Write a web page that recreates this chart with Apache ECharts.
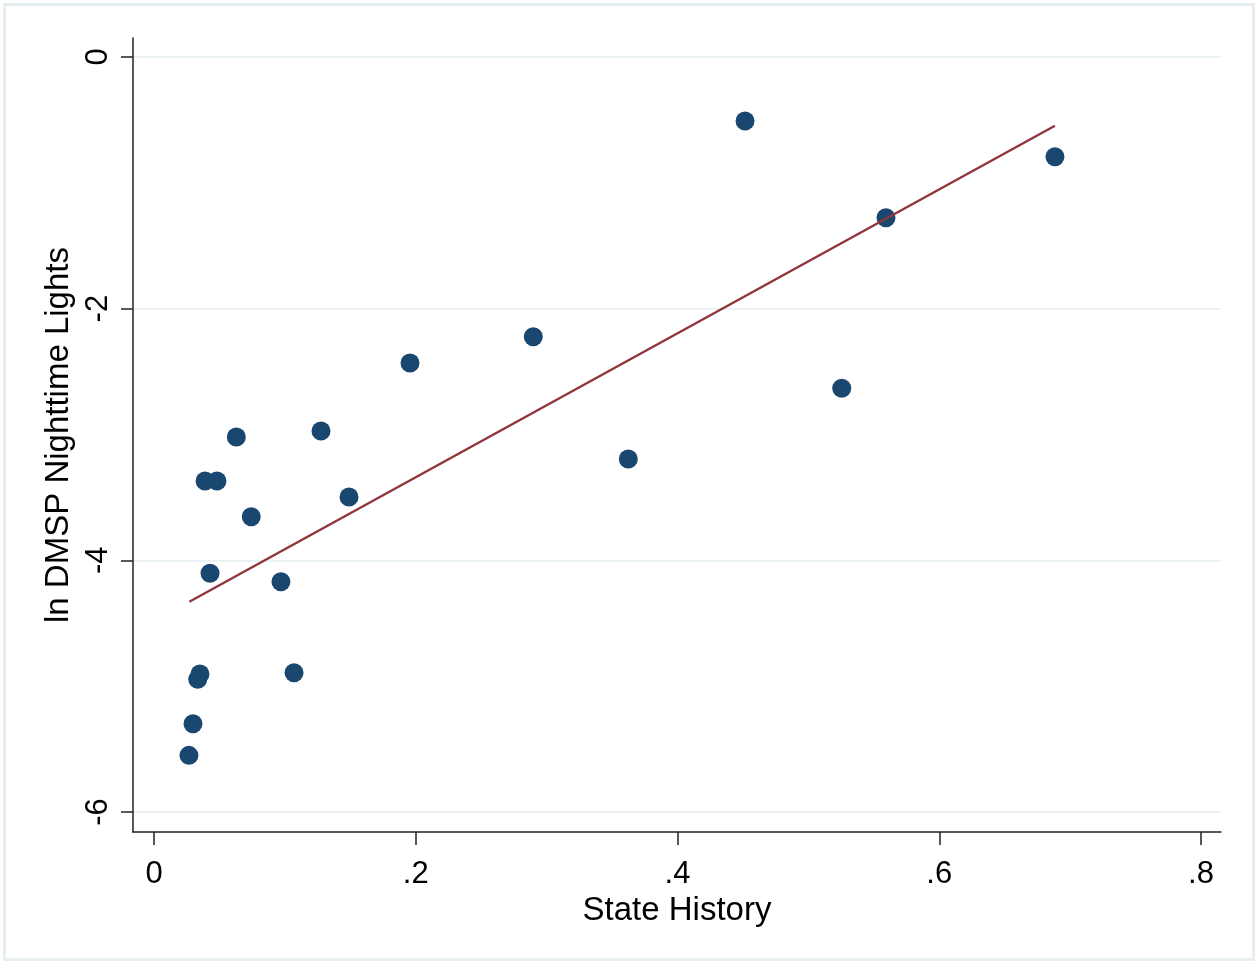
<!DOCTYPE html>
<html>
<head>
<meta charset="utf-8">
<script src="https://cdn.jsdelivr.net/npm/echarts@6/dist/echarts.min.js"></script>
<style>
html,body{margin:0;padding:0;background:#fff;}
#chart{width:1257px;height:962px;}
</style>
</head>
<body>
<div id="chart"></div>
<script>
// State History (x) vs ln DMSP Nighttime Lights (y)
const stateHistory = [0.4516, 0.6884, 0.5593, 0.2898, 0.1956, 0.5255, 0.0629, 0.1276, 0.3624, 0.0390,
                      0.0481, 0.1490, 0.0743, 0.0428, 0.0970, 0.1070, 0.0351, 0.0334, 0.0298, 0.0267];
const lnLights     = [-0.509, -0.792, -1.277, -2.223, -2.432, -2.633, -3.020, -2.972, -3.195, -3.370,
                      -3.370, -3.497, -3.653, -4.103, -4.170, -4.893, -4.903, -4.946, -5.298, -5.550];
// fitted line endpoints
const fitX = [0.0270, 0.6884];
const fitY = [-4.329, -0.546];
const xTicks = [0, 0.2, 0.4, 0.6, 0.8];
const yTicks = [-6, -4, -2, 0];

const fmt = v => {
  if (v === 0) return '0';
  let s = String(+v.toFixed(2));
  return s.replace(/^0\./, '.').replace(/^-0\./, '-.');
};

const chart = echarts.init(document.getElementById('chart'), null, {renderer: 'canvas'});
const font = 'Liberation Sans, Arial, sans-serif';
chart.setOption({
  animation: false,
  backgroundColor: '#ffffff',
  graphic: [{
    type: 'rect', silent: true,
    shape: {x: 4.5, y: 4.5, width: 1249, height: 955},
    style: {fill: 'none', stroke: '#e6eef2', lineWidth: 3}
  }],
  grid: {left: 133, right: 36, top: 38, bottom: 130, containLabel: false},
  xAxis: {
    type: 'value', min: -0.01605, max: 0.81528,
    name: 'State History', nameLocation: 'middle', nameGap: 52,
    nameTextStyle: {fontFamily: font, fontSize: 33, color: '#000'},
    axisLine: {show: true, onZero: false, lineStyle: {color: '#222', width: 1.5}},
    axisTick: {show: true, customValues: xTicks, length: 13, lineStyle: {color: '#222', width: 1.5}},
    axisLabel: {show: true, customValues: xTicks, formatter: fmt, margin: 27,
                fontFamily: font, fontSize: 31, color: '#000'},
    splitLine: {show: false}
  },
  yAxis: {
    type: 'value', min: -6.159, max: 0.151,
    name: 'ln DMSP Nighttime Lights', nameLocation: 'middle', nameGap: 41, nameRotate: 90,
    nameTextStyle: {fontFamily: font, fontSize: 33, color: '#000'},
    axisLine: {show: true, onZero: false, lineStyle: {color: '#222', width: 1.5}},
    axisTick: {show: true, customValues: yTicks, length: 12, lineStyle: {color: '#222', width: 1.5}},
    axisLabel: {show: true, customValues: yTicks, formatter: fmt, rotate: 90, margin: 19,
                fontFamily: font, fontSize: 31, color: '#000'},
    splitLine: {show: true, lineStyle: {color: '#eaf2f3', width: 2}}
  },
  series: [
    {
      type: 'scatter',
      data: stateHistory.map((x, i) => [x, lnLights[i]]),
      symbol: 'circle', symbolSize: 19,
      itemStyle: {color: '#1a476f', opacity: 1},
      z: 3
    },
    {
      type: 'line',
      data: fitX.map((x, i) => [x, fitY[i]]),
      showSymbol: false, symbol: 'none',
      lineStyle: {color: '#90353b', width: 2.4},
      z: 4
    }
  ]
});
</script>
</body>
</html>
